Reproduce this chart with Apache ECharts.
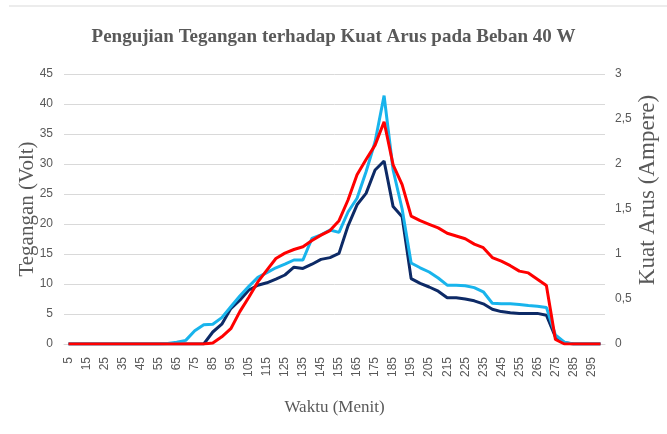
<!DOCTYPE html>
<html>
<head>
<meta charset="utf-8">
<script src="https://cdn.jsdelivr.net/npm/echarts@6/dist/echarts.min.js"></script>
<style>
  html, body { margin: 0; padding: 0; background: #fff; }
  #chart { width: 667px; height: 434px; }
</style>
</head>
<body>
<div id="chart"></div>
<script>
  // waktu (menit) 5 .. 300
  var waktu = ['5','10','15','20','25','30','35','40','45','50','55','60','65','70','75','80','85','90','95','100',
    '105','110','115','120','125','130','135','140','145','150','155','160','165','170','175','180','185','190','195','200',
    '205','210','215','220','225','230','235','240','245','250','255','260','265','270','275','280','285','290','295','300']

  // tegangan (volt) - biru muda
  var teganganA = [0,0,0,0,0,0,0,0,0,0,0,0.1,0.3,0.6,2.2,3.2,3.3,4.4,6.2,8,
    9.6,11.1,11.9,12.7,13.3,14,14,17.6,18.2,19,18.6,22,24.3,28.7,33.7,41.4,29,22.5,13.5,12.7,
    12,11,9.8,9.8,9.7,9.4,8.7,6.8,6.7,6.7,6.6,6.4,6.3,6.1,1.5,0.3,0,0,0,0]

  // tegangan (volt) - biru tua
  var teganganB = [0,0,0,0,0,0,0,0,0,0,0,0,0,0,0,0,2,3.3,5.9,7.3,
    9,9.8,10.2,10.8,11.5,12.8,12.6,13.3,14.1,14.4,15.1,19.7,23.2,25.1,29,30.5,22.9,21.2,10.9,10.1,
    9.5,8.8,7.7,7.7,7.5,7.2,6.7,5.8,5.4,5.2,5.1,5.1,5.1,4.8,1.2,0.2,0,0,0,0]

  // kuat arus (ampere) - merah
  var arus = [0,0,0,0,0,0,0,0,0,0,0,0,0,0,0,0,0.01,0.08,0.17,0.36,
    0.52,0.69,0.82,0.95,1.01,1.05,1.08,1.15,1.21,1.26,1.37,1.6,1.88,2.05,2.21,2.47,1.99,1.77,1.42,1.37,
    1.33,1.29,1.23,1.2,1.17,1.11,1.07,0.96,0.92,0.87,0.81,0.79,0.72,0.65,0.05,0,0,0,0,0]

  var labelFont = "'Liberation Sans Narrow', 'Liberation Sans', sans-serif"
  var serifFont = "'Liberation Serif', 'DejaVu Serif', serif"

  var chart = echarts.init(document.getElementById('chart'))

  chart.setOption({
    backgroundColor: '#fff',
    animation: false,
    title: {
      text: 'Pengujian Tegangan terhadap Kuat Arus pada Beban 40 W',
      left: 'center',
      top: 23,
      textStyle: {
        fontFamily: serifFont,
        fontWeight: 'bold',
        fontSize: 19,
        color: '#595959'
      }
    },
    graphic: [{
      type: 'line',
      shape: { x1: 9, y1: 6, x2: 667, y2: 6 },
      style: { stroke: '#d9d9d9', lineWidth: 1 }
    }],
    grid: {
      left: 64,
      right: 62,
      top: 74,
      bottom: 90
    },
    xAxis: {
      type: 'category',
      data: waktu,
      boundaryGap: true,
      name: 'Waktu (Menit)',
      nameLocation: 'middle',
      nameGap: 55,
      nameMoveOverlap: false,
      nameTextStyle: { fontFamily: serifFont, fontSize: 17, color: '#595959' },
      axisLine: { lineStyle: { color: '#d9d9d9' } },
      axisTick: { show: false },
      axisLabel: {
        interval: 1,
        rotate: 90,
        margin: 13,
        fontFamily: labelFont,
        fontSize: 12,
        color: '#595959'
      },
      splitLine: { show: false }
    },
    yAxis: [{
      type: 'value',
      min: 0,
      max: 45,
      interval: 5,
      name: 'Tegangan (Volt)',
      nameLocation: 'middle',
      nameRotate: 90,
      nameGap: 26,
      nameMoveOverlap: false,
      nameTextStyle: { fontFamily: serifFont, fontSize: 21, color: '#595959' },
      axisLine: { show: false },
      axisTick: { show: false },
      axisLabel: { margin: 11, fontFamily: labelFont, fontSize: 12, color: '#595959' },
      splitLine: { lineStyle: { color: '#d9d9d9' } }
    }, {
      type: 'value',
      min: 0,
      max: 3,
      interval: 0.5,
      position: 'right',
      name: 'Kuat Arus (Ampere)',
      nameLocation: 'middle',
      nameRotate: 90,
      nameGap: 31,
      nameMoveOverlap: false,
      nameTextStyle: { fontFamily: serifFont, fontSize: 23, color: '#595959', padding: [0, 0, 0, 38] },
      axisLine: { show: false },
      axisTick: { show: false },
      axisLabel: {
        margin: 10,
        fontFamily: labelFont,
        fontSize: 12,
        color: '#595959',
        formatter: function (v) { return String(v).replace('.', ',') }
      },
      splitLine: { show: false }
    }],
    series: [{
      name: 'Tegangan B',
      type: 'line',
      yAxisIndex: 0,
      data: teganganB,
      symbol: 'none',
      lineStyle: { color: '#0d2a66', width: 3 },
      itemStyle: { color: '#0d2a66' }
    }, {
      name: 'Tegangan A',
      type: 'line',
      yAxisIndex: 0,
      data: teganganA,
      symbol: 'none',
      lineStyle: { color: '#18b4ec', width: 3 },
      itemStyle: { color: '#18b4ec' }
    }, {
      name: 'Kuat Arus',
      type: 'line',
      yAxisIndex: 1,
      data: arus,
      symbol: 'none',
      lineStyle: { color: '#ff0000', width: 3 },
      itemStyle: { color: '#ff0000' }
    }]
  })
</script>
</body>
</html>
